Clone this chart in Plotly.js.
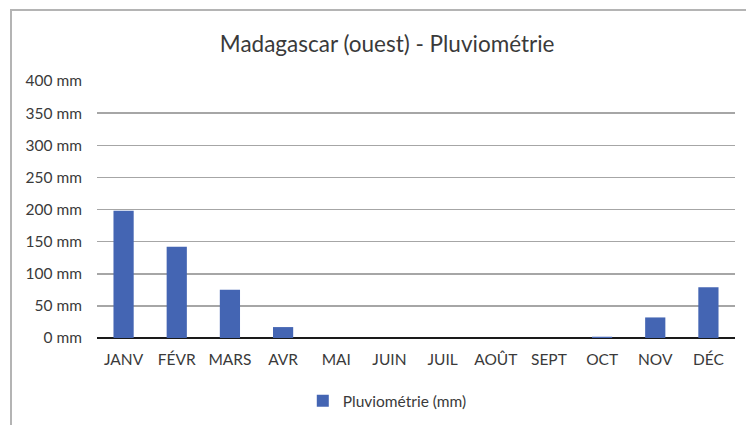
<!DOCTYPE html>
<html>
<head>
<meta charset="utf-8">
<script src="https://cdn.plot.ly/plotly-3.0.1.min.js"></script>
<style>
html,body{margin:0;padding:0;background:#fff;}
#wrap{position:relative;width:746px;height:425px;}
#frame{position:absolute;left:10px;top:9px;width:760px;height:430px;border-left:2px solid #b4b4b4;border-top:2px solid #b4b4b4;pointer-events:none;}
#chart{position:absolute;left:0;top:0;width:746px;height:425px;}
</style>
</head>
<body>
<div id="wrap">
<div id="frame"></div>
<div id="chart"></div>
</div>
<script>
var months = ['JANV','FÉVR','MARS','AVR','MAI','JUIN','JUIL','AOÛT','SEPT','OCT','NOV','DÉC'];
var rainfall = [198, 142, 75, 17, 0, 0, 0, 0, 0, 2, 32, 79];
var yTickVals = [0, 50, 100, 150, 200, 250, 300, 350, 400];
var yTickText = ['0 mm','50 mm','100 mm','150 mm','200 mm','250 mm','300 mm','350 mm','400 mm'];

var font = 'Lato, Carlito, Calibri, "Open Sans", sans-serif';
var trace = {
  type: 'bar',
  x: months,
  y: rainfall,
  name: 'Pluviométrie (mm)',
  marker: {color: '#4465B3'},
  showlegend: true
};
var layout = {
  width: 746, height: 425,
  paper_bgcolor: 'rgba(0,0,0,0)',
  plot_bgcolor: 'rgba(0,0,0,0)',
  margin: {l: 97, r: 11, t: 81, b: 87, autoexpand: false},
  font: {family: font, color: '#3a3a3a', size: 15.5},
  title: {text: 'Madagascar (ouest) - Pluviométrie', font: {family: font, size: 22.5, color: '#3a3a3a'}, x: 0.519, xanchor: 'center', y: 0.897, yanchor: 'middle'},
  bargap: 0.62,
  xaxis: {
    type: 'category', showgrid: false, ticks: '', showline: false, zeroline: false,
    tickfont: {family: font, size: 15.5, color: '#3a3a3a'}, ticklen: 0, ticklabelstandoff: 10
  },
  yaxis: {
    range: [0, 400], tickvals: yTickVals, ticktext: yTickText,
    showgrid: true, gridcolor: '#a6a6a6', gridwidth: 1.5,
    zeroline: true, zerolinecolor: '#1a1a1a', zerolinewidth: 2.5,
    showline: false, ticks: '', ticklabelstandoff: 14,
    tickfont: {family: font, size: 15.5, color: '#3a3a3a'}
  },
  legend: {orientation: 'h', x: 0.455, xanchor: 'center', y: -0.18, yanchor: 'top', itemwidth: 30, font: {family: font, size: 15.5, color: '#3a3a3a'}}
};
Plotly.newPlot('chart', [trace], layout, {displayModeBar: false, staticPlot: true});
</script>
</body>
</html>
